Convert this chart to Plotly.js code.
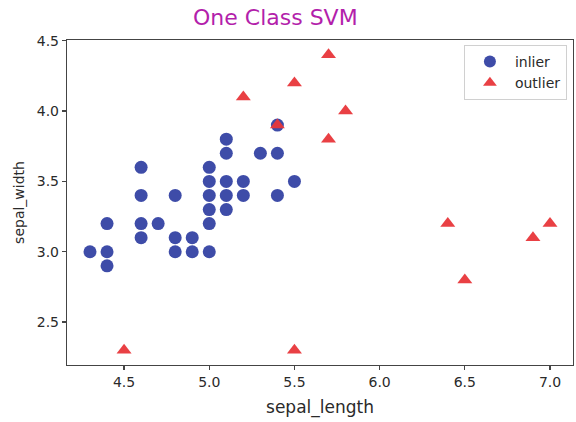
<!DOCTYPE html>
<html>
<head>
<meta charset="utf-8">
<script src="https://cdn.plot.ly/plotly-3.0.1.min.js"></script>
<style>html,body{margin:0;padding:0;background:#fff}#chart{width:576px;height:422px}</style>
</head>
<body>
<div id="chart"></div>
<script>
// Inliers (blue circles)
const inlierX = [4.3, 4.4, 4.4, 4.4, 4.6, 4.6, 4.6, 4.6, 4.7, 4.8, 4.8, 4.8, 4.9, 4.9,
                 5.0, 5.0, 5.0, 5.0, 5.0, 5.0, 5.1, 5.1, 5.1, 5.1, 5.1, 5.2, 5.2, 5.3,
                 5.4, 5.4, 5.4, 5.5];
const inlierY = [3.0, 3.0, 3.2, 2.9, 3.6, 3.4, 3.2, 3.1, 3.2, 3.4, 3.1, 3.0, 3.1, 3.0,
                 3.6, 3.5, 3.4, 3.3, 3.2, 3.0, 3.8, 3.7, 3.5, 3.4, 3.3, 3.5, 3.4, 3.7,
                 3.9, 3.7, 3.4, 3.5];
// Outliers (red triangles)
const outlierX = [4.5, 5.2, 5.4, 5.5, 5.7, 5.7, 5.8, 5.5, 6.4, 6.5, 6.9, 7.0];
const outlierY = [2.3, 4.1, 3.9, 4.2, 4.4, 3.8, 4.0, 2.3, 3.2, 2.8, 3.1, 3.2];

const xTicks = [4.5, 5.0, 5.5, 6.0, 6.5, 7.0];
const xTickText = ['4.5', '5.0', '5.5', '6.0', '6.5', '7.0'];
const yTicks = [2.5, 3.0, 3.5, 4.0, 4.5];
const yTickText = ['2.5', '3.0', '3.5', '4.0', '4.5'];

const font = 'DejaVu Sans, sans-serif';
const txt = '#2a2a2a';

const traces = [
  {
    x: inlierX, y: inlierY, type: 'scatter', mode: 'markers', name: 'inlier',
    marker: {symbol: 'circle', size: 13, color: '#3442a3', opacity: 0.95,
             line: {width: 0}}
  },
  {
    x: outlierX, y: outlierY, type: 'scatter', mode: 'markers', name: 'outlier',
    marker: {symbol: 'triangle-up', size: 13, color: '#e8363a', opacity: 0.95,
             line: {width: 0}}
  }
];

const axisCommon = {
  showgrid: false, zeroline: false, showline: true, mirror: true,
  linecolor: '#444', linewidth: 1.2, ticks: 'outside', ticklen: 4,
  tickcolor: '#444', tickwidth: 1.2, tickfont: {family: font, size: 14, color: txt}
};

const layout = {
  width: 576, height: 422,
  margin: {l: 67, r: 3, t: 40, b: 57},
  paper_bgcolor: '#fff', plot_bgcolor: '#fff',
  font: {family: font, color: txt},
  title: {text: 'One Class SVM', font: {family: font, size: 22, color: '#b31fab'},
          xref: 'container', x: 0.478, xanchor: 'center',
          yref: 'container', y: 0.958, yanchor: 'middle'},
  xaxis: Object.assign({}, axisCommon, {
    range: [4.165, 7.135], tickvals: xTicks, ticktext: xTickText,
    title: {text: 'sepal_length', font: {family: font, size: 17, color: txt}, standoff: 12}
  }),
  yaxis: Object.assign({}, axisCommon, {
    range: [2.195, 4.505], tickvals: yTicks, ticktext: yTickText,
    title: {text: 'sepal_width', font: {family: font, size: 14, color: txt}, standoff: 8}
  }),
  showlegend: true,
  legend: {x: 0.988, xanchor: 'right', y: 0.985, yanchor: 'top',
           bgcolor: '#fff', bordercolor: '#d0d0d0', borderwidth: 1,
           font: {family: font, size: 14, color: txt}, itemsizing: 'constant',
           itemwidth: 40, tracegroupgap: 4}
};

Plotly.newPlot('chart', traces, layout, {displayModeBar: false, staticPlot: true});
</script>
</body>
</html>
